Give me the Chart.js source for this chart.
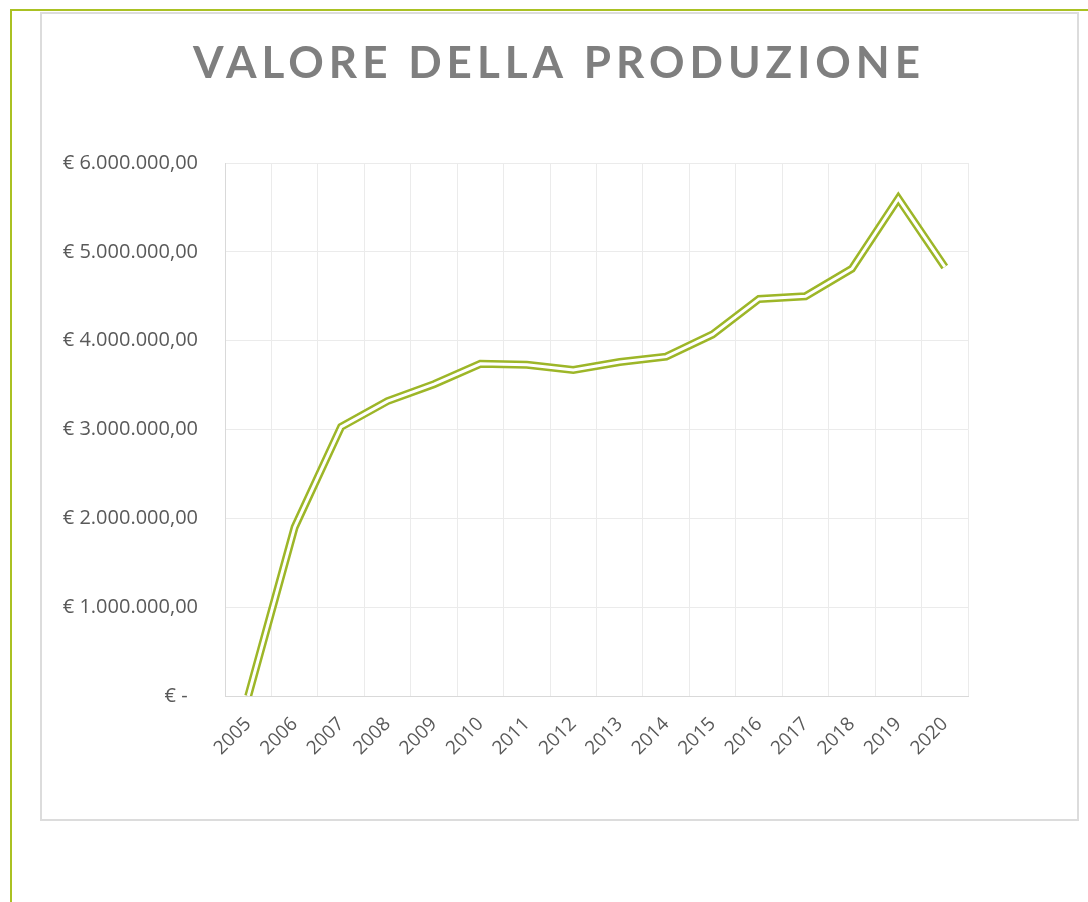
<!DOCTYPE html>
<html>
<head>
<meta charset="utf-8">
<script src="https://cdn.jsdelivr.net/npm/chart.js@4.4.0/dist/chart.umd.min.js"></script>
<style>
  html, body { margin: 0; padding: 0; background: #fff; }
  #wrap { position: relative; width: 1088px; height: 902px; overflow: hidden; }
  #greenTop { position: absolute; left: 10px; top: 9px; width: 1078px; height: 2px; background: #aac123; }
  #greenLeft { position: absolute; left: 10px; top: 9px; width: 2px; height: 893px; background: #aac123; }
  #box { position: absolute; left: 40px; top: 12px; width: 1035px; height: 805px; border: 2px solid #dcdcdc; }
  #myChart { position: absolute; left: 0; top: 0; }
</style>
</head>
<body>
<div id="wrap">
  <div id="greenTop"></div>
  <div id="greenLeft"></div>
  <div id="box"></div>
  <canvas id="myChart" width="1088" height="902"></canvas>
</div>
<script>
// dati
var anni = ['2005','2006','2007','2008','2009','2010','2011','2012','2013','2014','2015','2016','2017','2018','2019','2020'];
var valori = [0, 1900000, 3030000, 3320000, 3510000, 3740000, 3730000, 3670000, 3760000, 3820000, 4070000, 4470000, 4500000, 4810000, 5600000, 4830000];
var yTicks = [0, 1000000, 2000000, 3000000, 4000000, 5000000, 6000000];
var titolo = 'VALORE DELLA PRODUZIONE';

var verde = '#9db628';

function euro(v) {
  if (v === 0) return '€ -  ';
  var s = Math.round(v).toString().replace(/\B(?=(\d{3})+(?!\d))/g, '.');
  return '€ ' + s + ',00';
}

// titolo con spaziatura tra le lettere
var titlePlugin = {
  id: 'titoloSpaziato',
  afterDraw: function(chart) {
    var ctx = chart.ctx;
    ctx.save();
    ctx.font = 'bold 44px Lato';
    ctx.fillStyle = '#7f7f7f';
    ctx.textBaseline = 'alphabetic';
    ctx.textAlign = 'left';
    var w = ctx.measureText(titolo).width;
    var target = 727;
    var sp = (target - w) / (titolo.length - 1);
    ctx.letterSpacing = sp + 'px';
    ctx.fillText(titolo, 193, 78);
    ctx.restore();
  }
};

var ctx = document.getElementById('myChart').getContext('2d');
var myChart = new Chart(ctx, {
  type: 'line',
  data: {
    labels: anni,
    datasets: [{
      data: valori,
      borderColor: '#ffffff',
      borderWidth: 3,
      pointRadius: 0,
      tension: 0,
      borderJoinStyle: 'miter',
      order: 0
    }, {
      data: valori,
      borderColor: verde,
      borderWidth: 8,
      pointRadius: 0,
      tension: 0,
      borderJoinStyle: 'miter',
      order: 1
    }]
  },
  options: {
    responsive: false,
    animation: false,
    layout: {
      padding: { left: 40, right: 120, top: 163, bottom: 106 }
    },
    plugins: {
      legend: { display: false },
      title: { display: false },
      tooltip: { enabled: false }
    },
    scales: {
      x: {
        offset: true,
        grid: { offset: true, color: '#ebebeb', drawTicks: false },
        border: { color: '#d9d9d9' },
        ticks: {
          color: '#595959',
          font: { family: 'Open Sans', size: 19 },
          minRotation: 45,
          maxRotation: 45,
          padding: 17
        },
        afterFit: function(scale) { scale.height = 100; }
      },
      y: {
        min: 0,
        max: 6000000,
        afterBuildTicks: function(scale) {
          scale.ticks = yTicks.map(function(v) { return { value: v }; });
        },
        grid: { color: '#ebebeb', drawTicks: false },
        border: { color: '#d9d9d9' },
        ticks: {
          color: '#595959',
          font: { family: 'Open Sans', size: 20 },
          padding: 27,
          callback: function(v) { return euro(v); }
        },
        afterFit: function(scale) { scale.width = 185; }
      }
    }
  },
  plugins: [titlePlugin]
});
</script>
</body>
</html>
